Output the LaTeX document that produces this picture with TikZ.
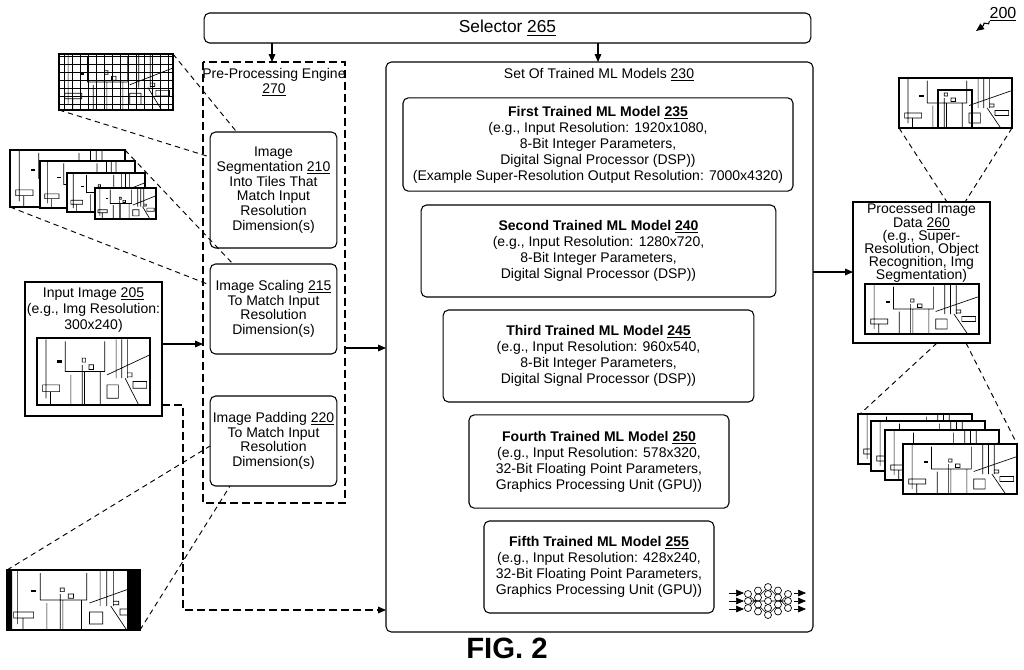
\documentclass[tikz,border=0pt]{standalone}
\usepackage{fontspec}
\setmainfont{Liberation Sans}
\usetikzlibrary{arrows.meta,decorations.pathmorphing}
\newcommand{\myscene}[4]{%
  \begin{scope}[shift={(#1,#2)}, xscale=#3, yscale=#4]
    \draw[line width=1.2pt] (0,0) rectangle (1,1);
    \draw[line width=0.5pt] (0.08,0.02)--(0.08,0.9) (0.25,0.05)--(0.25,0.5)--(0.6,0.5)--(0.6,0.05)
      (0.7,0.02)--(0.7,0.6) (0.75,0.02)--(0.75,0.6) (0.8,0.02)--(0.8,0.6) (0.62,0.55)--(1,0.25)
      (0.05,0.7) rectangle (0.2,0.8) (0.4,0.3) rectangle (0.43,0.36) (0.4,0.4)--(0.4,1)
      (0.46,0.4) rectangle (0.5,0.47) (0.42,0.5) rectangle (0.56,1) (0.8,0.52) rectangle (0.84,0.58) (0.78,0.6)--(0.9,1)
      (0.62,0.7) rectangle (0.72,0.9) (0.85,0.65) rectangle (0.97,0.75) (0.3,0.55)--(0.3,1) (0.12,0.8)--(0.12,1);
    \fill (0.18,0.33) rectangle (0.22,0.37);
  \end{scope}}
\begin{document}
\begin{tikzpicture}[x=0.75pt,y=-0.75pt,
  every node/.style={font=\fontsize{10.5}{12}\selectfont, align=center, inner sep=0pt},
  rbox/.style={draw, rounded corners=4pt, line width=0.8pt},
  dbox/.style={draw, dashed, dash pattern=on 6pt off 3pt, line width=0.8pt},
  arr/.style={-{Triangle[length=6pt,width=5pt]}, line width=0.8pt},
  dl/.style={dashed, dash pattern=on 4pt off 3pt, line width=0.7pt},
  tight/.style={font=\fontsize{10.5}{11}\selectfont}]
\useasboundingbox (0,0) rectangle (1024,669);
% selector
\node[rbox, minimum width=455pt, minimum height=22.5pt, font=\fontsize{13}{14}\selectfont] (sel) at (507.5,28) {Selector \underline{265}};
\node[font=\fontsize{12}{13}\selectfont] (l200) at (1003,14) {\underline{200}};
\coordinate (a200) at (976,31);
\draw[arr, decorate, decoration={snake,amplitude=1.2pt,segment length=5pt,post length=6pt}] (l200.south west) -- (a200);
% pre-processing engine
\draw[dbox] (203,62) rectangle (345,503);
\node[tight] (pre) at (274,82) {Pre-Processing Engine\\\underline{270}};
\coordinate (preT) at (272,62);
\draw[arr] (272,43) -- (preT);
\node[rbox, tight, minimum width=95pt, minimum height=87pt] (seg) at (273.5,190) {Image\\Segmentation \underline{210}\\Into Tiles That\\Match Input\\Resolution\\Dimension(s)};
\node[rbox, tight, minimum width=95pt, minimum height=67.5pt] (scl) at (273.5,309) {Image Scaling \underline{215}\\To Match Input\\Resolution\\Dimension(s)};
\node[rbox, tight, minimum width=95pt, minimum height=67.5pt] (pad) at (273.5,441) {Image Padding \underline{220}\\To Match Input\\Resolution\\Dimension(s)};
% models
\draw[rbox] (386,62) rectangle (813,632);
\node (set) at (599,75) {Set Of Trained ML Models \underline{230}};
\coordinate (setT) at (598,62);
\draw[arr] (598,43) -- (setT);
\node[rbox, minimum width=292.5pt, minimum height=70pt] (m1) at (598,144.5) {\textbf{First Trained ML Model \underline{235}}\\(e.g., Input Resolution: 1920x1080,\\8-Bit Integer Parameters,\\Digital Signal Processor (DSP))\\(Example Super-Resolution Output Resolution: 7000x4320)};
\node[rbox, minimum width=266pt, minimum height=69pt] (m2) at (598.5,251) {\textbf{Second Trained ML Model \underline{240}}\\(e.g., Input Resolution: 1280x720,\\8-Bit Integer Parameters,\\Digital Signal Processor (DSP))};
\node[rbox, minimum width=233pt, minimum height=69pt] (m3) at (598.5,356) {\textbf{Third Trained ML Model \underline{245}}\\(e.g., Input Resolution: 960x540,\\8-Bit Integer Parameters,\\Digital Signal Processor (DSP))};
\node[rbox, minimum width=195pt, minimum height=70pt] (m4) at (599,461.5) {\textbf{Fourth Trained ML Model \underline{250}}\\(e.g., Input Resolution: 578x320,\\32-Bit Floating Point Parameters,\\Graphics Processing Unit (GPU))};
\node[rbox, minimum width=172.5pt, minimum height=69pt] (m5) at (599,567) {\textbf{Fifth Trained ML Model \underline{255}}\\(e.g., Input Resolution: 428x240,\\32-Bit Floating Point Parameters,\\Graphics Processing Unit (GPU))};
% neural net icon
\foreach \y in {593,601,609} {\draw[arr,line width=0.5pt] (729,\y)--(744,\y); \draw[arr,line width=0.5pt] (794,\y)--(806,\y);}
\draw[line width=0.4pt] (748,594)--(768,615) (748,608)--(768,587) (768,587)--(788,608) (768,615)--(788,594) (748,601)--(788,601);
\foreach \x/\n in {748/3,758/4,768/5,778/4,788/3} {
  \foreach \i in {1,...,\n} {\draw[line width=0.5pt, fill=white] (\x,{601+(\i-(\n+1)/2)*7}) circle [radius=3.5];}}
% input image
\draw[line width=0.9pt] (25,282) rectangle (162,416);
\node (inp) at (93.5,310) {Input Image \underline{205}\\(e.g., Img Resolution:\\300x240)};
\myscene{37}{338}{113}{67}
\coordinate (inR) at (162,344);
\coordinate (preL) at (203,344);
\draw[arr] (inR) -- (preL);
\coordinate (preR) at (345,348);
\coordinate (modL) at (386,348);
\draw[arr] (preR) -- (modL);
\coordinate (inB) at (162,405);
\coordinate (modB) at (386,610);
\draw[arr, dash pattern=on 6pt off 3pt] (inB) -- (183,405) -- (183,610) -- (modB);
% grid image
\myscene{59}{54}{114}{56}
\draw[line width=0.4pt, step=6pt] (59,54) grid (173,110);
\draw[line width=1.2pt] (59,54) rectangle (173,110);
\draw[dl] (173,54) -- ([xshift=20pt]seg.north west);
\draw[dl] (59,110) -- (210,157);
% tiles
\foreach \x/\y/\w/\h in {10/150/115/57, 40/161/95/47, 67/173/78/39, 95/188/61/31} {
  \fill[white] (\x,\y) rectangle (\x+\w,\y+\h);
  \myscene{\x}{\y}{\w}{\h}}
\draw[dl] (125,150) -- (233,264);
\draw[dl] (10,207) -- (210,285);
% padded image
\myscene{7}{570}{133}{60}
\fill (7,570) rectangle (12,630) (127,570) rectangle (140,630);
\draw[dl] (7,570) -- (210,446);
\draw[dl] (140,630) -- (230,486);
% processed
\draw[line width=0.9pt] (853,202) rectangle (990,343);
\node[font=\fontsize{10.5}{9.8}\selectfont] (proc) at (921.5,243) {Processed Image\\Data \underline{260}\\(e.g., Super-\\Resolution, Object\\Recognition, Img\\Segmentation)};
\myscene{865}{284}{114}{50}
\coordinate (modR) at (813,272);
\coordinate (procL) at (853,272);
\draw[arr] (modR) -- (procL);
\myscene{899}{78}{113}{50}
\draw[line width=0.8pt] (938,90) rectangle (972,128);
\draw[dl] (899,128) -- (947,202);
\draw[dl] (1012,128) -- (965,202);
\foreach \dx/\dy in {0/0,13/7,27/16,45/30} {
  \fill[white] (858+\dx,414+\dy) rectangle (972+\dx,464+\dy);
  \myscene{858+\dx}{414+\dy}{114}{50}}
\draw[dl] (937,343) -- (860,414);
\draw[dl] (966,343) -- (1017,444);
\node[font=\fontsize{22}{24}\selectfont\bfseries] (fig) at (507,648) {FIG. 2};
\end{tikzpicture}
\end{document}
